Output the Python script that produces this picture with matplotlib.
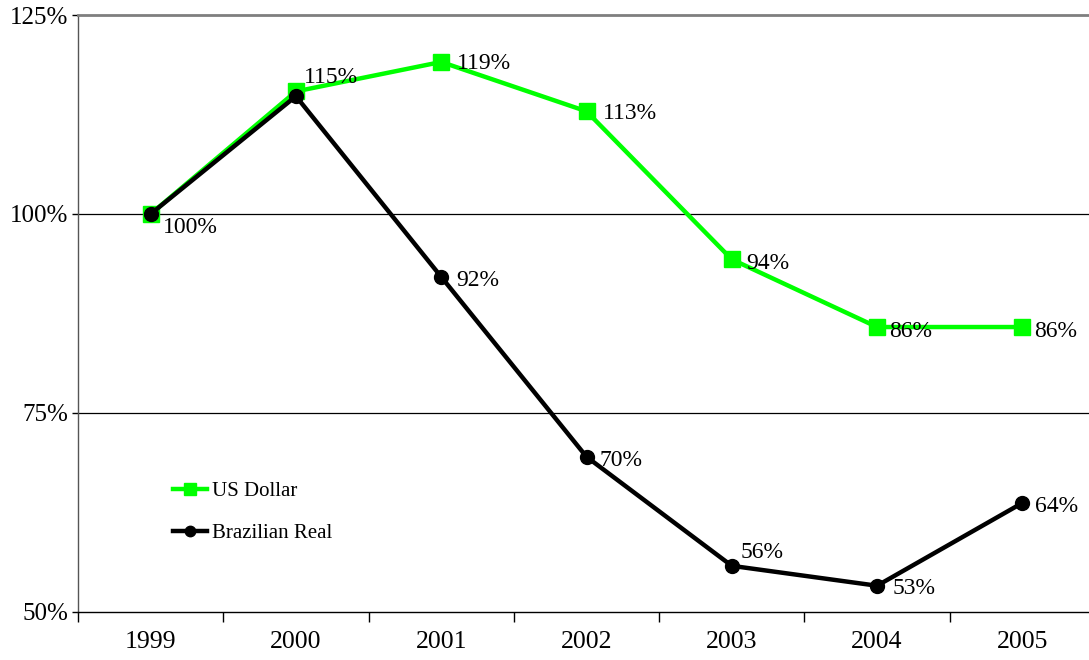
import matplotlib.pyplot as plt
import numpy as np

plt.rcParams['font.family'] = ['Liberation Serif', 'DejaVu Serif']

years = ['1999', '2000', '2001', '2002', '2003', '2004', '2005']
us_dollar = [100, 115.4, 119.1, 112.9, 94.3, 85.8, 85.8]
brazilian_real = [100, 114.8, 92.1, 69.5, 55.8, 53.3, 63.7]
us_labels = ['', '115%', '119%', '113%', '94%', '86%', '86%']
br_labels = ['100%', '', '92%', '70%', '56%', '53%', '64%']

fig = plt.figure(figsize=(10.89, 6.6), dpi=100)
ax = fig.add_axes([78 / 1089, 48 / 660, 1017 / 1089, 597 / 660])

x = np.arange(len(years))
ax.plot(x, us_dollar, color='#00ff00', lw=3.2, marker='s', ms=11, label='US Dollar', zorder=3)
ax.plot(x, brazilian_real, color='black', lw=3.2, marker='o', ms=10, label='Brazilian Real', zorder=4)

# data labels (offsets in pixels)
us_off = [(0, 0), (8, 14), (16, -2), (16, -2), (14, -4), (12, -4), (12, -4)]
br_off = [(12, -14), (0, 0), (15, -4), (13, -4), (9, 13), (15, -3), (13, -4)]
for i in range(len(years)):
    if us_labels[i]:
        ax.annotate(us_labels[i], (x[i], us_dollar[i]), xytext=us_off[i],
                    textcoords='offset pixels', ha='left', va='center', fontsize=17, zorder=5)
    if br_labels[i]:
        ax.annotate(br_labels[i], (x[i], brazilian_real[i]), xytext=br_off[i],
                    textcoords='offset pixels', ha='left', va='center', fontsize=17, zorder=5)

ax.set_xlim(-0.5, 6.5)
ax.set_ylim(50, 125)
ax.set_yticks([50, 75, 100, 125])
ax.set_yticklabels(['50%', '75%', '100%', '125%'], fontsize=18)
ax.set_xticks(x)
ax.set_xticklabels(years, fontsize=18.5)
ax.set_xticks(np.arange(-0.5, 6.6, 1), minor=True)
ax.tick_params(axis='x', which='major', length=0, pad=14)
ax.tick_params(axis='x', which='minor', length=7, width=1, direction='out')
ax.tick_params(axis='y', length=4, width=1, direction='out', pad=3)

for yv in [75, 100]:
    ax.axhline(yv, color='black', lw=0.9, zorder=1)
ax.spines['top'].set_color('#7f7f7f')
ax.spines['top'].set_linewidth(2)
ax.spines['right'].set_visible(False)
ax.spines['left'].set_color('#555555')
ax.spines['left'].set_linewidth(1)
ax.spines['bottom'].set_linewidth(1)

ax.legend(loc='upper left', bbox_to_anchor=(0.093, 0.219), frameon=False, fontsize=15,
          handlelength=1.63, handletextpad=0.25, labelspacing=1.1, borderaxespad=0,
          borderpad=0, markerscale=0.75)

fig.savefig('out.png', dpi=100)
